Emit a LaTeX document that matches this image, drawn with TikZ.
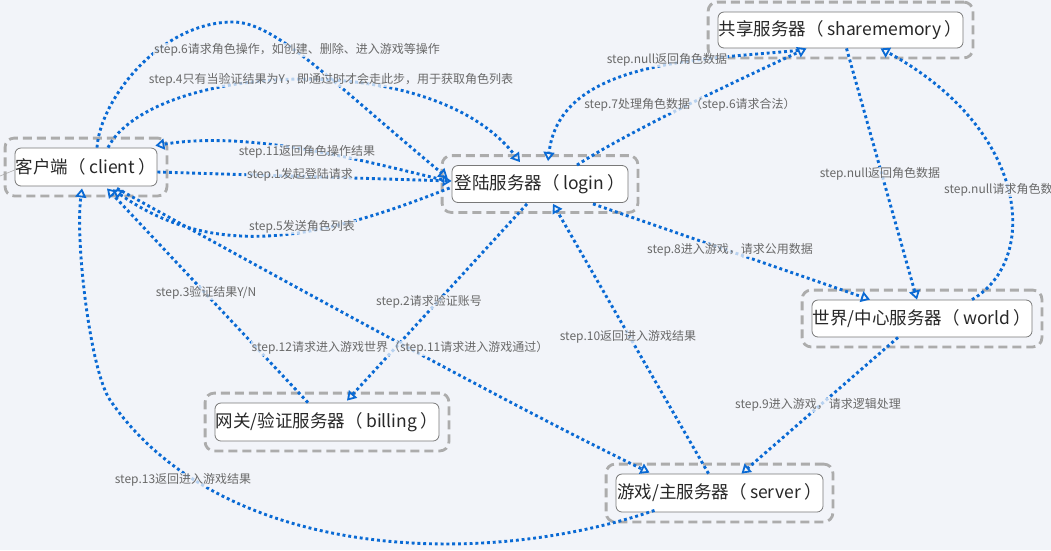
\documentclass[tikz,border=0pt]{standalone}
\usepackage{fontspec}
\setmainfont{Noto Sans CJK SC}
\usetikzlibrary{arrows.meta,fit,calc}
\definecolor{bg}{RGB}{242,244,249}
\definecolor{link}{RGB}{10,106,212}
\definecolor{frame}{RGB}{172,172,172}
\definecolor{labc}{RGB}{105,105,105}
\definecolor{boxc}{RGB}{120,120,120}
\definecolor{txt}{RGB}{40,40,40}
\newcommand{\lp}{（\hspace{0.2em}}
\newcommand{\rp}{\hspace{0.2em}）}
\begin{document}
\begin{tikzpicture}[x=1pt,y=-1pt,
 topic/.style={draw=boxc, line width=0.8pt, fill=white, rounded corners=6pt, inner sep=0pt, text=txt, font=\fontsize{17.5}{20}\selectfont},
 frm/.style={draw=frame, line width=2.8pt, dash pattern=on 9pt off 5pt, rounded corners=9pt, inner sep=9.5pt},
 conn/.style={draw=link, line width=2.9pt, dash pattern=on 2.9pt off 2.9pt, -{Triangle[open,length=9pt,width=11pt,line width=1.8pt]}},
 lab/.style={text=labc, font=\fontsize{12}{14}\selectfont, inner sep=1pt, fill=bg, fill opacity=0.75, text opacity=1}]
\path[use as bounding box, fill=bg] (0,0) rectangle (1051,550);
\clip (0,0) rectangle (1051,550);

\node[topic, minimum width=142pt, minimum height=38pt] (client) at (86,167) {客户端\lp client\rp};
\node[topic, minimum width=176pt, minimum height=37pt] (login) at (540,184) {登陆服务器\lp login\rp};
\node[topic, minimum width=245pt, minimum height=36pt] (share) at (840.5,30) {共享服务器\lp sharememory\rp};
\node[topic, minimum width=220pt, minimum height=37pt] (world) at (922,318.5) {世界/中心服务器\lp world\rp};
\node[topic, minimum width=224pt, minimum height=38pt] (billing) at (327,422) {网关/验证服务器\lp billing\rp};
\node[topic, minimum width=207pt, minimum height=38pt] (server) at (719.5,493) {游戏/主服务器\lp server\rp};

\foreach \n in {client,login,share,world,billing,server}{\node[frm, fit=(\n)] (\n f) {};}

\coordinate (edge) at (0,176);
\draw[boxc!60, line width=0.6pt] (edge) -- ($(client.west)+(0,3)$);

\coordinate (p6) at (233,22);
\coordinate (p13) at (110,400);

% step.1
\draw[conn] ($(client.east)+(0,5)$) -- ($(login.west)+(0,-3)$);
% step.2
\draw[conn] ($(login.south)+(-13,1)$) -- ($(billing.north)+(20,-2)$);
% step.3
\draw[conn] ($(billing.north)+(-19,0)$) -- ($(client.south)+(21,2)$);
% step.4
\draw[conn] ($(client.north)+(22,0)$) .. controls (150,65) and (430,45) .. ($(login.north)+(-20,-3)$);
% step.6
\draw[conn] ($(client.north)+(11,0)$) .. controls (100,100) and (160,22) .. (p6) .. controls (275,22) and (330,80) .. ($(login.west)+(-4,-6)$);
% step.11
\draw[conn] ($(login.west)+(-4,-3)$) .. controls (360,160) and (250,130) .. ($(client.north east)+(-2,-2)$);
% step.5
\draw[conn] ($(login.west)+(-2,4)$) .. controls (330,235) and (220,265) .. ($(client.south)+(27,3)$);
% step.12
\draw[conn] ($(client.south)+(31,2)$) .. controls (300,290) and (520,410) .. ($(server.north)+(-70,-1)$);
% step.10
\draw[conn] ($(server.north)+(-11,0)$) -- ($(login.south)+(13,1)$);
% step.8
\draw[conn] ($(login.south)+(53,1)$) -- ($(world.north)+(-52,0)$);
% step.9
\draw[conn] ($(world.south)+(-24,0)$) -- ($(server.north)+(22,0)$);
% step.13
\draw[conn] ($(server.south)+(-65,-2)$) .. controls (480,570) and (220,560) .. (p13) .. controls (90,370) and (75,240) .. ($(client.south)+(-4,2)$);
% step.7
\draw[conn] ($(login.north)+(37,0)$) .. controls (630,130) and (760,70) .. ($(share.south)+(-34,0)$);
% step.null back to login
\draw[conn] ($(share.south)+(-42,2)$) .. controls (700,60) and (560,60) .. ($(login.north)+(8,-4)$);
% step.null back to world
\draw[conn] ($(share.south)+(6,0)$) -- ($(world.north)+(-5,0)$);
% step.null request
\draw[conn] ($(world.north)+(50,0)$) .. controls (1040,260) and (1030,130) .. ($(share.south)+(40,0)$);

\node[lab] (l6) at (297,50) {step.6请求角色操作，如创建、删除、进入游戏等操作};
\node[lab] (l4) at (331,80) {step.4只有当验证结果为Y，即通过时才会走此步，用于获取角色列表};
\node[lab] (l11) at (307,152) {step.11返回角色操作结果};
\node[lab] (l1) at (300,175) {step.1发起登陆请求};
\node[lab] (l5) at (302,227) {step.5发送角色列表};
\node[lab] (l3) at (206,293) {step.3验证结果Y/N};
\node[lab] (l2) at (429,302) {step.2请求验证账号};
\node[lab] (l12) at (400,348) {step.12请求进入游戏世界（step.11请求进入游戏通过）};
\node[lab] (l10) at (628,337) {step.10返回进入游戏结果};
\node[lab] (l8) at (730,250) {step.8进入游戏，请求公用数据};
\node[lab] (l9) at (818,405) {step.9进入游戏，请求逻辑处理};
\node[lab] (l13) at (183,480) {step.13返回进入游戏结果};
\node[lab] (ln1) at (667,60) {step.null返回角色数据};
\node[lab] (l7) at (690,105) {step.7处理角色数据（step.6请求合法）};
\node[lab] (ln2) at (880,174) {step.null返回角色数据};
\node[lab, anchor=west] (ln3) at (943,190) {step.null请求角色数据};
\end{tikzpicture}
\end{document}
